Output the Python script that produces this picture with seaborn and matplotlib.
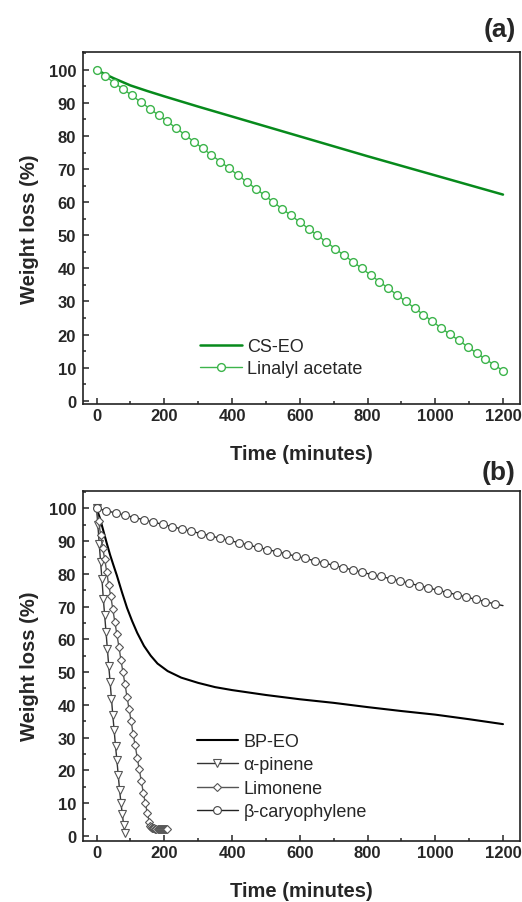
import matplotlib
matplotlib.use("Agg")
import matplotlib.pyplot as plt
import seaborn as sns
from matplotlib.ticker import MultipleLocator

# Panel (a): CS-EO and linalyl acetate
cs_time = [0, 25, 50, 100, 150, 200, 300, 400, 500, 600, 700, 800, 900, 1000, 1100, 1200]
cs_loss = [100, 98.7, 97.5, 95.3, 93.6, 92.0, 88.9, 85.9, 82.9, 79.9, 76.9, 73.9, 71.0, 68.1, 65.2, 62.3]

lin_time = [0, 26, 52, 78, 104, 130, 157, 183, 209, 235, 261, 287, 313, 339, 365, 391,
            417, 443, 470, 496, 522, 548, 574, 600, 626, 652, 678, 704, 730, 757, 783, 809,
            835, 861, 887, 913, 939, 965, 991, 1017, 1043, 1070, 1096, 1122, 1148, 1174, 1200]
lin_loss = [100, 98.1, 96.1, 94.2, 92.3, 90.3, 88.3, 86.3, 84.4, 82.4, 80.4, 78.3, 76.3, 74.3,
            72.3, 70.3, 68.2, 66.2, 64.1, 62.1, 60.0, 58.0, 56.0, 54.0, 52.0, 50.0, 48.0, 46.0,
            44.0, 42.0, 40.0, 38.0, 36.0, 34.0, 32.0, 30.0, 28.0, 26.0, 24.0, 22.0, 20.1, 18.2,
            16.3, 14.4, 12.6, 10.8, 9.1]

# Panel (b): BP-EO and its components
bp_time = [0, 10, 20, 30, 40, 50, 60, 75, 90, 105, 120, 140, 160, 180, 210, 250, 300, 350,
           400, 500, 600, 700, 800, 900, 1000, 1100, 1200]
bp_loss = [100, 97.0, 93.2, 89.4, 85.8, 82.6, 79.5, 74.4, 69.6, 65.6, 62.0, 58.0, 55.0, 52.6,
           50.3, 48.3, 46.7, 45.4, 44.5, 43.0, 41.7, 40.6, 39.3, 38.1, 37.0, 35.6, 34.1]

apin_time = [0, 4, 8, 12, 16, 20, 24, 28, 32, 36, 40, 44, 48, 52, 56, 60, 64, 68, 72, 76, 80, 84]
apin_loss = [100, 94.8, 89.0, 83.6, 78.3, 72.4, 67.3, 62.2, 57.0, 51.9, 47.0, 41.9, 36.8, 32.2,
             27.4, 23.2, 18.5, 14.0, 10.1, 6.6, 3.3, 1.0]

lim_time = [0, 6, 12, 18, 24, 30, 36, 42, 48, 54, 60, 66, 72, 78, 84, 90, 96, 102, 108, 114,
            120, 126, 132, 138, 144, 150, 156, 159, 162, 165, 168, 171, 174, 177, 180, 183,
            186, 189, 192, 195, 198, 201, 204, 207]
lim_loss = [100, 96.1, 92.0, 88.0, 84.6, 80.6, 76.5, 73.2, 69.2, 65.3, 61.5, 57.8, 53.7, 49.9,
            46.3, 42.4, 38.7, 35.1, 31.0, 27.7, 23.9, 20.3, 16.8, 13.2, 9.9, 6.9, 4.1, 3.0, 2.6,
            2.4, 2.3, 2.3, 2.2, 2.2, 2.2, 2.1, 2.1, 2.1, 2.1, 2.0, 2.0, 2.0, 2.0, 2.0]

bcar_time = [0, 28, 56, 84, 112, 140, 168, 196, 224, 252, 280, 308, 336, 364, 392, 420, 448,
             476, 504, 532, 560, 588, 616, 644, 672, 700, 728, 756, 784, 812, 840, 868, 896,
             924, 952, 980, 1008, 1036, 1064, 1092, 1120, 1148, 1176, 1200]
bcar_loss = [100, 99.3, 98.6, 97.9, 97.2, 96.5, 95.8, 95.1, 94.4, 93.7, 93.0, 92.3, 91.6, 90.9,
             90.2, 89.5, 88.8, 88.1, 87.4, 86.8, 86.1, 85.4, 84.7, 84.0, 83.3, 82.6, 81.9, 81.2,
             80.5, 79.8, 79.2, 78.5, 77.8, 77.1, 76.4, 75.7, 75.0, 74.3, 73.6, 72.9, 72.2, 71.5,
             70.8, 70.3]

sns.set_style("ticks")
plt.rcParams['font.family'] = ['Liberation Sans', 'DejaVu Sans']

fig = plt.figure(figsize=(5.22, 9.03), dpi=100)
ax1 = fig.add_axes([0.159, 0.5515, 0.837, 0.3898])
ax2 = fig.add_axes([0.159, 0.0679, 0.837, 0.3876])

green_dark = '#078a1c'
green_light = '#3cb44b'

sns.lineplot(x=cs_time, y=cs_loss, ax=ax1, color=green_dark, linewidth=1.8, label='CS-EO')
sns.lineplot(x=lin_time, y=lin_loss, ax=ax1, color=green_light, linewidth=1.0,
             marker='o', markersize=5.6, markerfacecolor='white', markeredgecolor=green_light,
             markeredgewidth=1.0, label='Linalyl acetate')

sns.lineplot(x=bp_time, y=bp_loss, ax=ax2, color='black', linewidth=1.5, label='BP-EO')
sns.lineplot(x=apin_time, y=apin_loss, ax=ax2, color='#333333', linewidth=1.0,
             marker='v', markersize=5.8, markerfacecolor='white', markeredgecolor='#555555',
             markeredgewidth=0.8, label='α-pinene')
sns.lineplot(x=lim_time, y=lim_loss, ax=ax2, color='#555555', linewidth=1.0,
             marker='D', markersize=4.2, markerfacecolor='white', markeredgecolor='#555555',
             markeredgewidth=0.8, label='Limonene')
sns.lineplot(x=bcar_time, y=bcar_loss, ax=ax2, color='#222222', linewidth=1.0,
             marker='o', markersize=5.6, markerfacecolor='white', markeredgecolor='#444444',
             markeredgewidth=0.8, markevery=list(range(43)), label='β-caryophylene')

for ax, ylo in [(ax1, -1), (ax2, -1.5)]:
    ax.set_xlim(-40, 1250)
    ax.set_ylim(ylo, 105.4)
    ax.xaxis.set_major_locator(MultipleLocator(200))
    ax.xaxis.set_minor_locator(MultipleLocator(100))
    ax.yaxis.set_major_locator(MultipleLocator(10))
    ax.yaxis.set_minor_locator(MultipleLocator(5))
    ax.tick_params(which='both', direction='in', top=False, right=False, width=1.1)
    ax.tick_params(which='major', length=4, labelsize=12)
    ax.tick_params(axis='x', which='major', pad=3)
    ax.tick_params(axis='y', which='major', pad=5)
    ax.tick_params(which='minor', length=2.5)
    for lbl in ax.get_xticklabels() + ax.get_yticklabels():
        lbl.set_fontweight('bold')
    for sp in ax.spines.values():
        sp.set_linewidth(1.2)
        sp.set_color('#222222')
    ax.set_xlabel('Time (minutes)', fontsize=14.5, fontweight='bold', labelpad=15)
    ax.set_ylabel('Weight loss (%)', fontsize=14.5, fontweight='bold', labelpad=7)

ax1.legend(loc='center left', bbox_to_anchor=(0.268, 0.132), frameon=False, fontsize=13,
           handlelength=2.3, handletextpad=0.3, labelspacing=0.3, borderpad=0, borderaxespad=0)
ax2.legend(loc='center left', bbox_to_anchor=(0.26, 0.183), frameon=False, fontsize=13,
           handlelength=2.3, handletextpad=0.3, labelspacing=0.36, borderpad=0, borderaxespad=0)

fig.text(0.988, 0.967, '(a)', fontsize=19, fontweight='bold', ha='right', va='center')
fig.text(0.988, 0.476, '(b)', fontsize=19, fontweight='bold', ha='right', va='center')

fig.savefig('out.png', dpi=100)
